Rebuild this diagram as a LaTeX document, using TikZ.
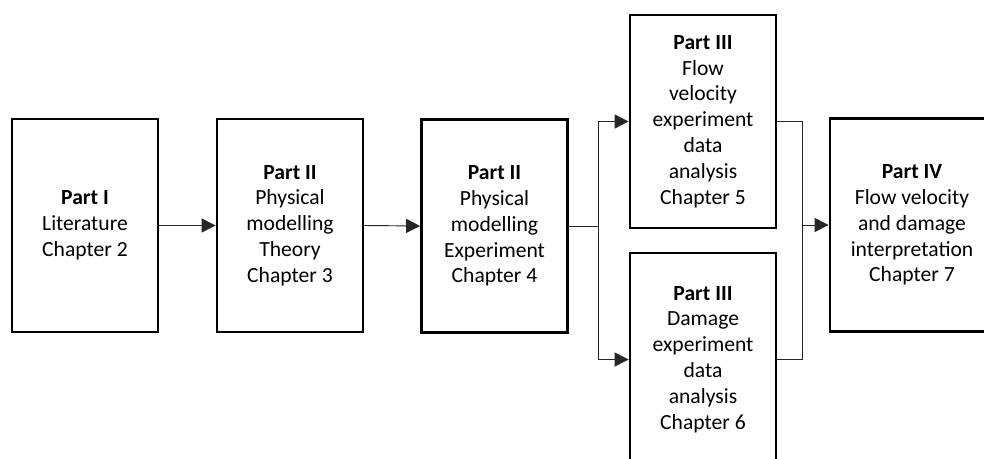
\documentclass[tikz,border=0pt]{standalone}
\usepackage{fontspec}
\setmainfont{Carlito}
\usetikzlibrary{arrows.meta}
\begin{document}
\begin{tikzpicture}[x=0.75pt,y=-0.75pt,
  box/.style={draw, line width=2.1pt, minimum width=109.5pt, minimum height=159.75pt,
    align=center, inner sep=0pt, font=\fontsize{16.2pt}{19.4pt}\selectfont},
  conn/.style={line width=0.7pt, color=black!85},
  arr/.style={conn, -{Triangle[length=10.5pt,width=10.5pt]}}]
\clip (0,0) rectangle (984,459);
\fill[white] (0,0) rectangle (984,459);
\node[box] (b1) at (85,225.5) {\textbf{Part I}\\Literature\\Chapter 2};
\node[box] (b2) at (290,225.5) {\textbf{Part II}\\Physical\\modelling\\Theory\\Chapter 3};
\node[box] (b3) at (494.5,226) {\textbf{Part II}\\Physical\\modelling\\Experiment\\Chapter 4};
\node[box] (b4) at (703,121.5) {\textbf{Part III}\\Flow\\velocity\\experiment\\data\\analysis\\Chapter 5};
\node[box] (b5) at (703,359.5) {\textbf{Part III}\\Damage\\experiment\\data\\analysis\\Chapter 6};
\node[box, minimum width=123pt] (b6) at (912,225) {\textbf{Part IV}\\Flow velocity\\and damage\\interpretation\\Chapter 7};
\coordinate (j1) at (598,226);
\coordinate (j2) at (802,225);
\draw[arr] (b1.east) -- (b2.west);
\draw[arr] (b2.east) -- (b3.west);
\draw[conn] (b3.east) -- (j1);
\draw[arr] (j1) |- (b4.west);
\draw[arr] (j1) |- (b5.west);
\draw[conn] (b4.east) -| (j2);
\draw[conn] (b5.east) -| (j2);
\draw[arr] (j2) -- (b6.west);
\end{tikzpicture}
\end{document}
